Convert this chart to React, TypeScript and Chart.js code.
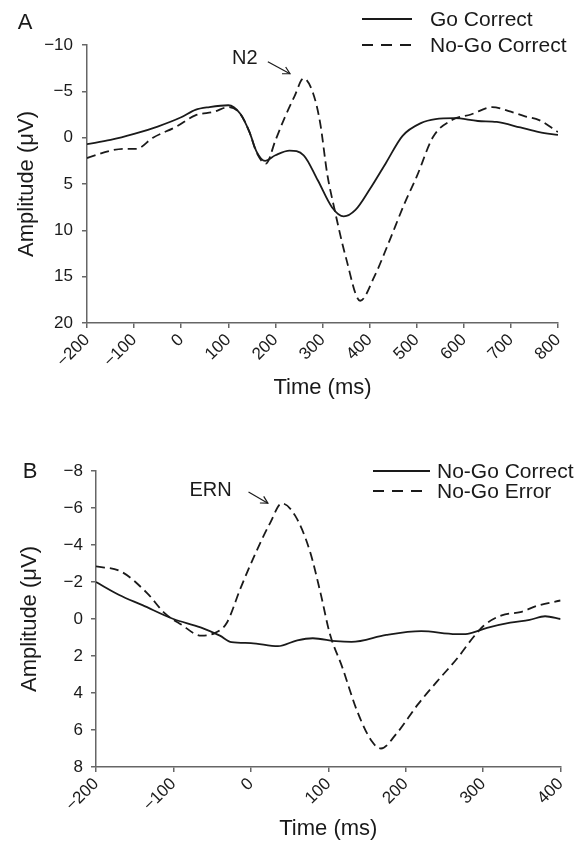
import React, { useEffect, useRef } from 'react';
import { Chart, registerables } from 'chart.js';

Chart.register(...registerables);

const FONT = '"Liberation Sans", Arial, Helvetica, sans-serif';
const INK = '#1a1a1a';
const AXIS = '#666666';

// ---------- Panel A data ----------
const panelALabel = 'A';
const seriesNamesA = ['Go Correct', 'No-Go Correct'];
const xTicksA = [-200, -100, 0, 100, 200, 300, 400, 500, 600, 700, 800];
const yTicksA = [-10, -5, 0, 5, 10, 15, 20];
const timeGoCorrectA = [-200, -150, -100, -50, 0, 30, 60, 100, 125, 145, 160, 178, 200, 230, 260, 290, 320, 345, 370, 400, 435, 470, 510, 540, 580, 630, 670, 720, 760, 800];
const ampGoCorrectA = [0.7, 0.25, -0.4, -1.2, -2.2, -3.0, -3.3, -3.5, -2.6, -0.6, 1.5, 2.5, 1.9, 1.4, 1.9, 4.6, 7.5, 8.5, 7.8, 5.6, 2.7, -0.2, -1.6, -2.0, -2.1, -1.8, -1.7, -1.1, -0.6, -0.3];
const timeNoGoCorrectA = [-200, -150, -120, -95, -60, -10, 30, 70, 100, 125, 145, 160, 180, 200, 220, 240, 260, 280, 295, 310, 325, 350, 380, 410, 440, 475, 500, 535, 575, 615, 660, 700, 730, 760, 800];
const ampNoGoCorrectA = [2.2, 1.4, 1.2, 1.2, 0.0, -1.2, -2.4, -2.8, -3.3, -2.6, -0.6, 1.6, 2.8, 0.3, -2.2, -4.4, -6.4, -4.8, -1.6, 3.9, 7.6, 13.0, 17.6, 15.0, 11.4, 7.0, 4.2, -0.1, -1.9, -2.5, -3.3, -2.8, -2.3, -1.9, -0.6];
const annotA = { text: 'N2', textAt: [135, -8.5], arrowFrom: [184, -8.2], arrowTo: [231, -6.9] };

// ---------- Panel B data ----------
const panelBLabel = 'B';
const seriesNamesB = ['No-Go Correct', 'No-Go Error'];
const xTicksB = [-200, -100, 0, 100, 200, 300, 400];
const yTicksB = [-8, -6, -4, -2, 0, 2, 4, 6, 8];
const timeNoGoCorrectB = [-200, -170, -140, -100, -65, -40, -25, 0, 35, 60, 80, 110, 130, 175, 220, 265, 280, 305, 335, 360, 380, 400];
const ampNoGoCorrectB = [-2.0, -1.3, -0.75, 0.0, 0.45, 0.9, 1.25, 1.3, 1.47, 1.15, 1.04, 1.2, 1.24, 0.86, 0.66, 0.82, 0.8, 0.48, 0.2, 0.05, -0.15, 0.0];
const timeNoGoErrorB = [-200, -167, -134, -111, -90, -64, -46, -31, -13, 6, 25, 40, 57, 76, 90, 102, 118, 137, 156, 168, 188, 216, 240, 268, 287, 301, 324, 348, 371, 400];
const ampNoGoErrorB = [-2.85, -2.55, -1.4, -0.3, 0.3, 0.9, 0.75, 0.2, -1.7, -3.55, -5.2, -6.25, -5.6, -3.7, -1.4, 0.8, 2.6, 4.95, 6.6, 7.0, 6.2, 4.6, 3.4, 2.05, 1.0, 0.35, -0.2, -0.37, -0.73, -1.0];
const annotB = { text: 'ERN', textAt: [-52, -6.97], arrowFrom: [-3, -6.86], arrowTo: [22, -6.26] };

const fmt = (v: number) => String(v).replace('-', '\u2212');
const zip = (t: number[], v: number[]) => t.map((x, i) => ({ x, y: v[i] }));

function drawArrow(ctx: CanvasRenderingContext2D, x1: number, y1: number, x2: number, y2: number) {
  ctx.beginPath();
  ctx.moveTo(x1, y1);
  ctx.lineTo(x2, y2);
  ctx.stroke();
  const a = Math.atan2(y2 - y1, x2 - x1);
  const h = 8;
  ctx.beginPath();
  ctx.moveTo(x2 - h * Math.cos(a - 0.5), y2 - h * Math.sin(a - 0.5));
  ctx.lineTo(x2, y2);
  ctx.lineTo(x2 - h * Math.cos(a + 0.5), y2 - h * Math.sin(a + 0.5));
  ctx.stroke();
}

type PanelCfg = {
  letter: string;
  letterPos: [number, number];
  names: string[];
  legendX: [number, number, number];
  legendY: [number, number];
  xTicks: number[];
  yTicks: number[];
  solid: { x: number; y: number }[];
  dashed: { x: number; y: number }[];
  annot: { text: string; textAt: number[]; arrowFrom: number[]; arrowTo: number[] };
  pad: { top: number; right: number };
  yWidth: number;
  xHeight: number;
  xTitlePad: number;
  yTitlePad: number;
  yTickPad: number;
};

function makeConfig(p: PanelCfg): any {
  const overlay = {
    id: 'overlay',
    afterDraw(chart: any) {
      const ctx = chart.ctx as CanvasRenderingContext2D;
      const xs = chart.scales.x;
      const ys = chart.scales.y;
      ctx.save();
      ctx.fillStyle = INK;
      ctx.strokeStyle = INK;
      // panel letter
      ctx.font = `22px ${FONT}`;
      ctx.textAlign = 'center';
      ctx.textBaseline = 'middle';
      ctx.fillText(p.letter, p.letterPos[0], p.letterPos[1]);
      // legend
      ctx.font = `21px ${FONT}`;
      ctx.textAlign = 'left';
      ctx.lineWidth = 1.8;
      p.names.forEach((name, i) => {
        const y = p.legendY[i];
        ctx.setLineDash(i === 1 ? [11, 8] : []);
        ctx.beginPath();
        ctx.moveTo(p.legendX[0], y);
        ctx.lineTo(p.legendX[1], y);
        ctx.stroke();
        ctx.setLineDash([]);
        ctx.fillText(name, p.legendX[2], y + 1);
      });
      // annotation
      const a = p.annot;
      ctx.font = `20px ${FONT}`;
      ctx.textAlign = 'center';
      ctx.fillText(a.text, xs.getPixelForValue(a.textAt[0]), ys.getPixelForValue(a.textAt[1]));
      ctx.lineWidth = 1.2;
      drawArrow(
        ctx,
        xs.getPixelForValue(a.arrowFrom[0]), ys.getPixelForValue(a.arrowFrom[1]),
        xs.getPixelForValue(a.arrowTo[0]), ys.getPixelForValue(a.arrowTo[1])
      );
      ctx.restore();
    },
  };

  const gridOpts = { drawOnChartArea: false, drawTicks: true, tickLength: 5, color: AXIS, lineWidth: 1.5 };
  const borderOpts = { display: true, color: AXIS, width: 1.5 };

  return {
    type: 'line',
    data: {
      datasets: [
        { label: p.names[0], data: p.solid, borderColor: INK, borderWidth: 1.8, pointRadius: 0, cubicInterpolationMode: 'monotone', fill: false },
        { label: p.names[1], data: p.dashed, borderColor: INK, borderWidth: 1.8, borderDash: [9, 5], pointRadius: 0, cubicInterpolationMode: 'monotone', fill: false },
      ],
    },
    options: {
      responsive: false,
      animation: false,
      devicePixelRatio: 1,
      layout: { padding: { left: 0, right: p.pad.right, top: p.pad.top, bottom: 0 } },
      plugins: { legend: { display: false }, tooltip: { enabled: false }, title: { display: false } },
      scales: {
        x: {
          type: 'linear',
          position: 'bottom',
          min: p.xTicks[0],
          max: p.xTicks[p.xTicks.length - 1],
          afterBuildTicks: (s: any) => { s.ticks = p.xTicks.map((v) => ({ value: v })); },
          afterFit: (s: any) => { s.height = p.xHeight; },
          ticks: { minRotation: 45, maxRotation: 45, autoSkip: false, padding: 2, color: INK, font: { family: FONT, size: 17 }, callback: (v: number) => fmt(v) },
          grid: gridOpts,
          border: borderOpts,
          title: { display: true, text: 'Time (ms)', color: INK, font: { family: FONT, size: 22 }, padding: { top: 0, bottom: p.xTitlePad } },
        },
        y: {
          type: 'linear',
          reverse: true,
          min: p.yTicks[0],
          max: p.yTicks[p.yTicks.length - 1],
          afterBuildTicks: (s: any) => { s.ticks = p.yTicks.map((v) => ({ value: v })); },
          afterFit: (s: any) => { s.width = p.yWidth; },
          ticks: { padding: p.yTickPad, color: INK, font: { family: FONT, size: 17 }, callback: (v: number) => fmt(v) },
          grid: gridOpts,
          border: borderOpts,
          title: { display: true, text: 'Amplitude (\u03bcV)', color: INK, font: { family: FONT, size: 22 }, padding: { top: p.yTitlePad, bottom: 0 } },
        },
      },
    },
    plugins: [overlay],
  };
}

const cfgA: PanelCfg = {
  letter: panelALabel,
  letterPos: [25, 23],
  names: seriesNamesA,
  legendX: [362, 412, 430],
  legendY: [19, 45],
  xTicks: xTicksA,
  yTicks: yTicksA,
  solid: zip(timeGoCorrectA, ampGoCorrectA),
  dashed: zip(timeNoGoCorrectA, ampNoGoCorrectA),
  annot: annotA,
  pad: { top: 45, right: 19 },
  yWidth: 87,
  xHeight: 99,
  xTitlePad: 21,
  yTitlePad: 14,
  yTickPad: 9,
};

const cfgB: PanelCfg = {
  letter: panelBLabel,
  letterPos: [30, 50],
  names: seriesNamesB,
  legendX: [373, 430, 437],
  legendY: [49, 69],
  xTicks: xTicksB,
  yTicks: yTicksB,
  solid: zip(timeNoGoCorrectB, ampNoGoCorrectB),
  dashed: zip(timeNoGoErrorB, ampNoGoErrorB),
  annot: annotB,
  pad: { top: 49, right: 8 },
  yWidth: 96,
  xHeight: 77,
  xTitlePad: 2,
  yTitlePad: 17,
  yTickPad: 8,
};

function Panel({ cfg, top }: { cfg: PanelCfg; top: number }) {
  const ref = useRef<HTMLCanvasElement | null>(null);
  useEffect(() => {
    if (!ref.current) return;
    const chart = new Chart(ref.current, makeConfig(cfg));
    return () => chart.destroy();
  }, [cfg]);
  return (
    <canvas
      ref={ref}
      width={577}
      height={422}
      style={{ position: 'absolute', left: 0, top, width: 577, height: 422, display: 'block' }}
    />
  );
}

export default function App() {
  return (
    <div style={{ position: 'fixed', left: 0, top: 0, width: 577, height: 844, background: '#ffffff', overflow: 'hidden' }}>
      <Panel cfg={cfgA} top={0} />
      <Panel cfg={cfgB} top={422} />
    </div>
  );
}
